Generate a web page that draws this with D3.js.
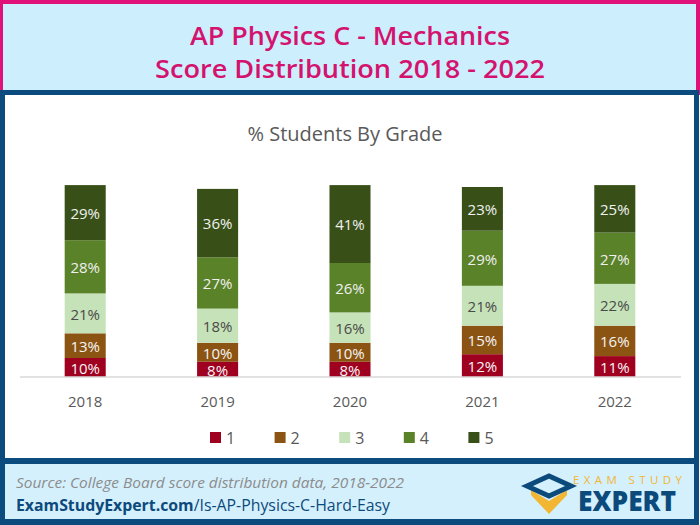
<!DOCTYPE html>
<html><head><meta charset="utf-8">
<script src="https://cdn.jsdelivr.net/npm/d3@7"></script>
<style>html,body{margin:0;padding:0;background:#fff;}svg{display:block;}</style>
</head><body>
<svg id="c" width="700" height="525"></svg>
<script>
const years = ["2018","2019","2020","2021","2022"];
const grades = ["1","2","3","4","5"];
const grade1 = [10, 8, 8, 12, 11];
const grade2 = [13, 10, 10, 15, 16];
const grade3 = [21, 18, 16, 21, 22];
const grade4 = [28, 27, 26, 29, 27];
const grade5 = [29, 36, 41, 23, 25];
const colors = ["#a00020", "#8c5412", "#c6e2b8", "#5a8228", "#385018"];
const labelColors = ["#f5f5f5", "#f5f5f5", "#4a4a4a", "#f0f0f0", "#f0f0f0"];

const series = [grade1, grade2, grade3, grade4, grade5];
const rows = years.map((y, i) => {
  const r = {year: y};
  grades.forEach((g, k) => r[g] = series[k][i]);
  return r;
});

const svg = d3.select("#c");
const FONT = "'Open Sans', 'Noto Sans', sans-serif";

// Header
svg.append("rect").attr("x",0).attr("y",0).attr("width",700).attr("height",95).attr("fill","#e0127a");
svg.append("rect").attr("x",3).attr("y",4).attr("width",693).attr("height",91).attr("fill","#cdeffd");
svg.append("text").attr("x",350).attr("y",45).attr("text-anchor","middle")
  .attr("font-family",FONT).attr("font-weight",600).attr("font-size",25).attr("fill","#d4136f")
  .attr("textLength",320).attr("lengthAdjust","spacingAndGlyphs").text("AP Physics C - Mechanics");
svg.append("text").attr("x",350).attr("y",78).attr("text-anchor","middle")
  .attr("font-family",FONT).attr("font-weight",600).attr("font-size",25).attr("fill","#d4136f")
  .attr("textLength",390).attr("lengthAdjust","spacingAndGlyphs").text("Score Distribution 2018 - 2022");

// Blue frame
svg.append("rect").attr("x",0).attr("y",90).attr("width",699).attr("height",435).attr("fill","#0b4b7d");
svg.append("rect").attr("x",5).attr("y",95).attr("width",689).attr("height",363).attr("fill","#ffffff");
svg.append("rect").attr("x",5).attr("y",464).attr("width",689).attr("height",55).attr("fill","#d4f0fc");

// Chart title
svg.append("text").attr("x",345).attr("y",141).attr("text-anchor","middle")
  .attr("font-family",FONT).attr("font-size",20).attr("fill","#595959").text("% Students By Grade");

const x = d3.scaleBand().domain(years).range([19, 681]).paddingInner(0.69).paddingOuter(0.345);
const y = d3.scaleLinear().domain([0, 100]).range([377, 187]);

const stacked = d3.stack().keys(grades)(rows);

const g = svg.append("g");
stacked.forEach((s, k) => {
  g.selectAll(null).data(s).enter().append("rect")
    .attr("x", d => x(d.data.year))
    .attr("width", x.bandwidth())
    .attr("y", d => y(d[1]))
    .attr("height", d => y(d[0]) - y(d[1]))
    .attr("fill", colors[k]);
  g.selectAll(null).data(s).enter().append("text")
    .attr("x", d => x(d.data.year) + x.bandwidth()/2)
    .attr("y", d => (y(d[0]) + y(d[1]))/2 + 1)
    .attr("dy", "0.35em")
    .attr("text-anchor","middle")
    .attr("font-family",FONT).attr("font-size",15)
    .attr("fill", labelColors[k])
    .text(d => (d[1]-d[0]) + "%");
});

// X axis
const xAxis = svg.append("g").attr("transform","translate(0,377)")
  .call(d3.axisBottom(x).tickSize(0).tickPadding(19));
xAxis.select(".domain").attr("stroke","#d9d9d9").attr("stroke-width",1.5).attr("d","M20,0H681");
xAxis.selectAll("text").attr("font-family",FONT).attr("font-size",15).attr("fill","#595959");

// Legend
const lx = d3.scaleBand().domain(grades).range([210, 533]);
const leg = svg.append("g");
grades.forEach((gr, k) => {
  leg.append("rect").attr("x", lx(gr)).attr("y", 432).attr("width", 11).attr("height", 11).attr("fill", colors[k]);
  leg.append("text").attr("x", lx(gr) + 16).attr("y", 444).attr("font-family",FONT).attr("font-size",16)
    .attr("fill","#595959").text(gr);
});

// Footer
svg.append("text").attr("x",16).attr("y",488).attr("font-family",FONT).attr("font-style","italic")
  .attr("font-size",15).attr("fill","#8c8c8c").attr("textLength",388).attr("lengthAdjust","spacingAndGlyphs")
  .text("Source: College Board score distribution data, 2018-2022");
const ft = svg.append("text").attr("x",16).attr("y",511).attr("font-family",FONT).attr("font-size",16).attr("fill","#0d4a7c")
  .attr("textLength",374).attr("lengthAdjust","spacingAndGlyphs");
ft.append("tspan").attr("font-weight",700).text("ExamStudyExpert.com");
ft.append("tspan").text("/Is-AP-Physics-C-Hard-Easy");

// Logo
const logo = svg.append("g");
logo.append("path").attr("d","M531,495 L549,514 L567,495 L567,490 L549,501 L531,490 Z").attr("fill","#f2b632");
logo.append("path").attr("d","M527,486 L549,476 L571,486 L549,496 Z").attr("fill","none").attr("stroke","#0d4a7c").attr("stroke-width",5).attr("stroke-linejoin","miter");
logo.append("text").attr("x",573).attr("y",484).attr("font-family",FONT).attr("font-size",11.5)
  .attr("fill","#f2b632").attr("textLength",109).attr("lengthAdjust","spacing").text("EXAM STUDY");
logo.append("text").attr("x",578).attr("y",511).attr("font-family",FONT).attr("font-weight",800).attr("font-size",28)
  .attr("fill","#0d4a7c").attr("textLength",98).attr("lengthAdjust","spacingAndGlyphs").text("EXPERT");
</script>
</body></html>
